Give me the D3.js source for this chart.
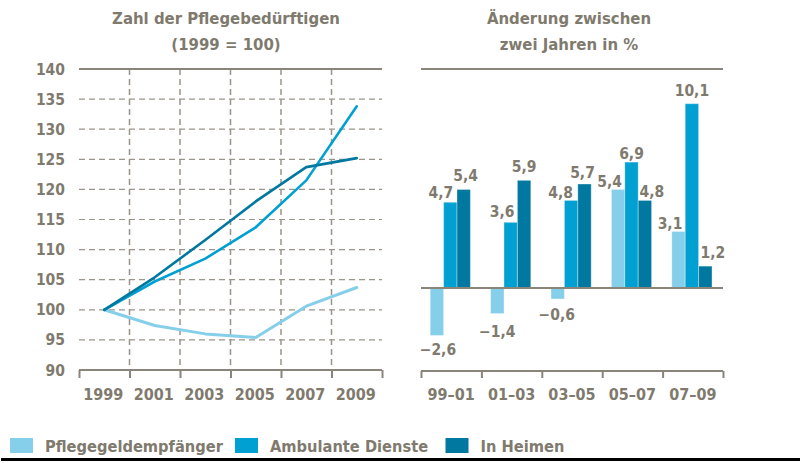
<!DOCTYPE html>
<html>
<head>
<meta charset="utf-8">
<script src="https://cdn.jsdelivr.net/npm/d3@7"></script>
<style>
  html, body { margin: 0; padding: 0; background: #fff; }
  svg { display: block; }
  text { font-family: "DejaVu Sans Condensed", "DejaVu Sans", sans-serif; font-weight: bold; fill: #7f7a6e; }
</style>
</head>
<body>
<svg id="chart" width="800" height="463"></svg>
<script>
// ---------- DATA ----------
const seriesNames = ["Pflegegeldempfänger", "Ambulante Dienste", "In Heimen"];
const years = [1999, 2001, 2003, 2005, 2007, 2009];
const indexPflegegeld = [100, 97.4, 96.0, 95.4, 100.6, 103.7];
const indexAmbulant   = [100, 104.7, 108.5, 113.7, 121.5, 133.8];
const indexHeime      = [100, 105.4, 111.6, 118.0, 123.7, 125.2];
const yTicksLeft = [90, 95, 100, 105, 110, 115, 120, 125, 130, 135, 140];

const periods = ["99–01", "01–03", "03–05", "05–07", "07–09"];
const changePflegegeld = [-2.6, -1.4, -0.6, 5.4, 3.1];
const changeAmbulant   = [4.7, 3.6, 4.8, 6.9, 10.1];
const changeHeime      = [5.4, 5.9, 5.7, 4.8, 1.2];

// ---------- STYLE / LAYOUT ----------
const colors = ["#86cfea", "#00a0d3", "#00789f"];
const gridCol = "#9a958b";
const axisCol = "#8a857a";
// per-label nudges [dx, dy] relative to default placement (group x series)
const labelNudge = [
  [[1, -1.5], [-9.5, -0.5], [2, -5]],
  [[0, 2.5], [-8.5, -1.5], [0, -5]],
  [[-1, 0], [-10.5, 1], [-2, -3]],
  [[-8.5, 0.5], [0, 0], [7, 0]],
  [[-8.5, 0.5], [0, -4], [7.5, -5]]
];

const svg = d3.select("#chart");
const locale = d3.formatLocale({decimal: ",", thousands: ".", grouping: [3], currency: ["", "€"], minus: "−"});
const fmt = locale.format(".1f");

// ---------- TITLES ----------
function title(x, lines) {
  lines.forEach((t, i) => {
    svg.append("text").attr("x", x).attr("y", 23.5 + i * 26)
      .attr("text-anchor", "middle").style("font-size", "16.6px").text(t);
  });
}
title(226, ["Zahl der Pflegebedürftigen", "(1999 = 100)"]);
title(569, ["Änderung zwischen", "zwei Jahren in %"]);

// ---------- LEFT: LINE CHART ----------
const L = {x0: 79, x1: 382, y0: 370, y1: 69};
const xL = d3.scaleLinear().domain([1998, 2010]).range([L.x0, L.x1]);
const yL = d3.scaleLinear().domain([90, 140]).range([L.y0, L.y1]);

const gL = svg.append("g");
gL.selectAll("line.hg").data(yTicksLeft.filter(v => v > 90 && v < 140)).join("line")
  .attr("x1", L.x0).attr("x2", L.x1)
  .attr("y1", d => yL(d)).attr("y2", d => yL(d))
  .attr("stroke", gridCol).attr("stroke-width", 1.2).attr("stroke-dasharray", "6,4");
const evenYears = d3.range(2000, 2010, 2);
gL.selectAll("line.vg").data(evenYears).join("line")
  .attr("x1", d => xL(d)).attr("x2", d => xL(d))
  .attr("y1", L.y1).attr("y2", L.y0)
  .attr("stroke", gridCol).attr("stroke-width", 1.5).attr("stroke-dasharray", "6,4");
gL.append("line").attr("x1", L.x0).attr("x2", L.x1).attr("y1", yL(140)).attr("y2", yL(140))
  .attr("stroke", axisCol).attr("stroke-width", 2);
const xAxisL = d3.axisBottom(xL).tickValues(d3.range(1998, 2011, 2)).tickSize(8).tickFormat("");
const axL = gL.append("g").attr("transform", `translate(0,${L.y0})`).call(xAxisL);
axL.select(".domain").attr("stroke", axisCol).attr("stroke-width", 2).attr("d", `M${L.x0},0H${L.x1}`);
axL.selectAll(".tick line").attr("stroke", axisCol).attr("stroke-width", 2);
gL.selectAll("text.yr").data(years).join("text")
  .attr("x", d => xL(d) - 1).attr("y", 400).attr("text-anchor", "middle")
  .style("font-size", "16px").text(d => d);
gL.selectAll("text.yl").data(yTicksLeft).join("text")
  .attr("x", 65).attr("y", d => yL(d)).attr("dy", "0.36em").attr("text-anchor", "end")
  .style("font-size", "15.5px").text(d => d);

const lineData = [indexPflegegeld, indexAmbulant, indexHeime];
const line = d3.line().x((d, i) => xL(years[i])).y(d => yL(d)).curve(d3.curveLinear);
gL.selectAll("path.series").data(lineData).join("path")
  .attr("fill", "none").attr("stroke", (d, i) => colors[i])
  .attr("stroke-width", (d, i) => i === 0 ? 3 : 2.6)
  .attr("stroke-linejoin", "round").attr("stroke-linecap", "round")
  .attr("d", d => line(d));

// ---------- RIGHT: BAR CHART ----------
const R = {x0: 421, x1: 723, y0: 372, y1: 69};
const yR = d3.scaleLinear().domain([-4.6, 12]).range([R.y0, R.y1]);
const xR = d3.scaleBand().domain(periods).range([R.x0, R.x1]);
const xIn = d3.scaleBand().domain([0, 1, 2]).range([0, 40.2]);

const gR = svg.append("g");
gR.append("line").attr("x1", R.x0).attr("x2", R.x1).attr("y1", yR(12)).attr("y2", yR(12))
  .attr("stroke", axisCol).attr("stroke-width", 2);

const changeData = [changePflegegeld, changeAmbulant, changeHeime];
const bars = [];
periods.forEach((p, gi) => {
  changeData.forEach((arr, si) => {
    bars.push({p, gi, si, v: arr[gi]});
  });
});
const barX = d => xR(d.p) + xR.bandwidth() / 2 - 21 + xIn(d.si);
gR.selectAll("rect.bar").data(bars).join("rect")
  .attr("x", barX)
  .attr("width", xIn.bandwidth())
  .attr("y", d => yR(Math.max(0, d.v)))
  .attr("height", d => Math.abs(yR(d.v) - yR(0)))
  .attr("fill", d => colors[d.si])
  .attr("stroke", "rgba(255,255,255,0.35)").attr("stroke-width", 1);

gR.append("line").attr("x1", R.x0).attr("x2", R.x1).attr("y1", yR(0)).attr("y2", yR(0))
  .attr("stroke", axisCol).attr("stroke-width", 2);

const xAxisR = d3.axisBottom(d3.scaleLinear().domain([0, 5]).range([R.x0, R.x1]))
  .tickValues(d3.range(0, 6)).tickSize(7).tickFormat("");
const axR = gR.append("g").attr("transform", `translate(0,${R.y0 - 1})`).call(xAxisR);
axR.select(".domain").attr("stroke", axisCol).attr("stroke-width", 2).attr("d", `M${R.x0},0H${R.x1}`);
axR.selectAll(".tick line").attr("stroke", axisCol).attr("stroke-width", 2);
gR.selectAll("text.per").data(periods).join("text")
  .attr("x", d => xR(d) + xR.bandwidth() / 2).attr("y", 400).attr("text-anchor", "middle")
  .style("font-size", "16px").text(d => d);

gR.selectAll("text.val").data(bars).join("text")
  .attr("x", d => barX(d) + xIn.bandwidth() / 2 + labelNudge[d.gi][d.si][0])
  .attr("y", d => (d.v >= 0 ? yR(d.v) - 9 : yR(d.v) + 15) + labelNudge[d.gi][d.si][1])
  .attr("dy", "0.36em").attr("text-anchor", "middle")
  .style("font-size", "15.5px").text(d => fmt(d.v));

// ---------- LEGEND ----------
const legendX = [10, 235, 445.5];
const lg = svg.append("g");
seriesNames.forEach((n, i) => {
  lg.append("rect").attr("x", legendX[i]).attr("y", 438).attr("width", 23).attr("height", 15)
    .attr("fill", colors[i]);
  lg.append("text").attr("x", legendX[i] + 35).attr("y", 451.5)
    .style("font-size", "16.3px").text(n);
});

svg.append("rect").attr("x", 1).attr("y", 458).attr("width", 799).attr("height", 3).attr("fill", "#000");
</script>
</body>
</html>
